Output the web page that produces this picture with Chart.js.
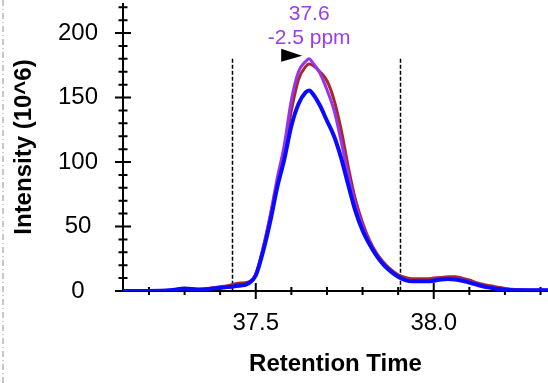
<!DOCTYPE html>
<html>
<head>
<meta charset="utf-8">
<script src="https://cdn.jsdelivr.net/npm/chart.js@4"></script>
<style>
  html, body { margin: 0; padding: 0; background: #fff; }
  #wrap { width: 548px; height: 383px; position: relative; }
</style>
</head>
<body>
<div id="wrap"><canvas id="chart-xic" width="548" height="383"></canvas></div>
<script>
const times = [37.12, 37.2, 37.26, 37.3, 37.34, 37.38, 37.42, 37.45, 37.48, 37.5, 37.52, 37.54, 37.56, 37.58, 37.6, 37.62, 37.64, 37.65, 37.66, 37.68, 37.7, 37.72, 37.74, 37.76, 37.78, 37.8, 37.82, 37.84, 37.86, 37.88, 37.9, 37.92, 37.94, 37.96, 37.98, 38.0, 38.02, 38.04, 38.06, 38.08, 38.1, 38.12, 38.14, 38.16, 38.18, 38.2, 38.24, 38.28, 38.32];
const blueValues = [0, 0, 0.5, 2, 1, 2, 3, 4, 6, 12, 30, 53, 80, 102, 128, 145, 154, 155.5, 153, 144, 132, 120, 103, 82, 62, 47, 36, 27, 20, 15, 11, 8.5, 7.5, 7.5, 7.5, 8, 9, 9.3, 9, 8, 6.5, 5, 3.5, 2.5, 1.5, 1, 0.5, 0.5, 0.5];
const purpleValues = [0, 0, 0.5, 2, 1, 2, 3, 4, 6, 13, 33, 58, 87, 113, 148, 170, 178, 180, 177, 169, 156, 140, 116, 90, 67, 50, 38, 28, 21, 15.5, 11.5, 9, 8, 8, 8, 8.5, 9.5, 10, 9.5, 8.5, 7, 5.5, 4, 3, 2, 1.5, 0.5, 0.5, 0.5];
const brownValues = [0, 0, 0.5, 2, 1.5, 2.5, 4, 6, 7, 13, 32, 57, 84, 110, 140, 164, 174, 176, 175, 170, 163, 148, 125, 96, 71, 53, 39, 29, 22, 16.5, 12.5, 10.5, 9.5, 9.5, 9.5, 10, 10.5, 11, 11, 10, 8.5, 6.5, 5, 4, 3, 2, 1, 0.5, 0.5];

const xTicks = [37.5, 38.0];
const yTicks = [0, 50, 100, 150, 200];
const xMinorStep = 0.1;
const yMinorStep = 10;

const peakBounds = [37.433, 37.905];
const boundTop = 180;
const peakTime = 37.65;
const peakTop = 180;
const peakLabel = ["37.6", "-2.5 ppm"];

const xyPoints = (vals) => times.map((t, i) => ({ x: t, y: vals[i] }));

const axesPlugin = {
  id: "axes",
  beforeDatasetsDraw(chart) {
    const { ctx, chartArea, scales } = chart;
    const xs = scales.x;
    const ys = scales.y;
    const x0 = chartArea.left;
    const y0 = ys.getPixelForValue(0);
    ctx.save();

    // light border on the far left
    ctx.strokeStyle = "#c8c8c8";
    ctx.lineWidth = 2;
    ctx.setLineDash([6, 3, 1, 3]);
    ctx.beginPath();
    ctx.moveTo(3, 0);
    ctx.lineTo(3, chart.height);
    ctx.stroke();

    // integration bounds
    ctx.strokeStyle = "#000";
    ctx.lineWidth = 1.5;
    ctx.setLineDash([4, 2]);
    peakBounds.forEach((b) => {
      const px = Math.round(xs.getPixelForValue(b)) + 0.5;
      ctx.beginPath();
      ctx.moveTo(px, ys.getPixelForValue(boundTop));
      ctx.lineTo(px, y0);
      ctx.stroke();
    });
    ctx.setLineDash([]);

    // axis lines
    ctx.lineWidth = 2;
    ctx.beginPath();
    ctx.moveTo(x0 - 8, y0);
    ctx.lineTo(chartArea.right, y0);
    ctx.moveTo(x0, y0);
    ctx.lineTo(x0, chartArea.top);
    ctx.stroke();

    // x ticks
    ctx.beginPath();
    for (let v = Math.ceil(xs.min / xMinorStep) * xMinorStep; v <= xs.max; v += xMinorStep) {
      const px = xs.getPixelForValue(v);
      const major = xTicks.some((t) => Math.abs(t - v) < 1e-6);
      const len = major ? 8 : 4;
      ctx.moveTo(px, y0 - len);
      ctx.lineTo(px, y0 + len);
    }
    // y ticks
    for (let v = yMinorStep; v <= ys.max; v += yMinorStep) {
      const py = ys.getPixelForValue(v);
      const major = yTicks.includes(v);
      const len = major ? 8 : 4.5;
      ctx.moveTo(x0 - len, py);
      ctx.lineTo(x0 + len, py);
    }
    ctx.stroke();
    ctx.restore();
  },
  afterDatasetsDraw(chart) {
    const { ctx, scales } = chart;
    const px = scales.x.getPixelForValue(peakTime);
    const py = scales.y.getPixelForValue(peakTop);
    ctx.save();
    // arrow marker
    ctx.fillStyle = "#000";
    ctx.beginPath();
    ctx.moveTo(px - 7, py - 3);
    ctx.lineTo(px - 28, py - 10);
    ctx.lineTo(px - 28, py + 3);
    ctx.closePath();
    ctx.fill();
    // label
    ctx.fillStyle = "#9b3cf0";
    ctx.font = "21px 'Liberation Sans', Arial, sans-serif";
    ctx.textAlign = "center";
    ctx.textBaseline = "middle";
    ctx.fillText(peakLabel[0], px, py - 45);
    ctx.fillText(peakLabel[1], px, py - 21);
    ctx.restore();
  },
};

const chartXic = new Chart(document.querySelector("#chart-xic"), {
  type: "line",
  data: {
    datasets: [
      {
        label: "blue",
        data: xyPoints(blueValues),
        borderColor: "#0a0aff",
        borderWidth: 4,
        order: 1,
      },
      {
        label: "purple",
        data: xyPoints(purpleValues),
        borderColor: "#9932ee",
        borderWidth: 3,
        order: 2,
      },
      {
        label: "brown",
        data: xyPoints(brownValues),
        borderColor: "#a82828",
        borderWidth: 3,
        order: 3,
      },
    ],
  },
  options: {
    responsive: false,
    animation: false,
    devicePixelRatio: 1,
    layout: { padding: { top: 3, right: 0, left: 0, bottom: 0 } },
    elements: {
      point: { radius: 0 },
      line: { cubicInterpolationMode: "monotone", borderJoinStyle: "round", borderCapStyle: "round" },
    },
    plugins: {
      legend: { display: false },
      tooltip: { enabled: false },
    },
    scales: {
      x: {
        type: "linear",
        min: 37.127,
        max: 38.321,
        grid: { display: false, drawTicks: false, tickLength: 0 },
        border: { display: false },
        afterBuildTicks: (s) => { s.ticks = xTicks.map((v) => ({ value: v })); },
        afterFit: (s) => {
          s.height = 92;
          s.paddingLeft = 0;
          s.paddingRight = 0;
        },
        ticks: {
          padding: 18,
          color: "#000",
          font: { family: "'Liberation Sans', Arial, sans-serif", size: 24 },
          callback: (v) => Number(v).toFixed(1),
        },
        title: {
          display: true,
          text: "Retention Time",
          color: "#000",
          padding: { top: 0, bottom: 4 },
          font: { family: "'Liberation Sans', Arial, sans-serif", size: 24, weight: "bold" },
        },
      },
      y: {
        min: 0,
        max: 223.3,
        grid: { display: false, drawTicks: false, tickLength: 0 },
        border: { display: false },
        afterBuildTicks: (s) => { s.ticks = yTicks.map((v) => ({ value: v })); },
        afterFit: (s) => {
          s.width = 123;
          s.paddingTop = 0;
          s.paddingBottom = 0;
        },
        ticks: {
          padding: 25,
          crossAlign: "center",
          color: "#000",
          font: { family: "'Liberation Sans', Arial, sans-serif", size: 24 },
        },
        title: {
          display: true,
          text: "Intensity (10^6)",
          color: "#000",
          padding: { top: 10, bottom: 0 },
          font: { family: "'Liberation Sans', Arial, sans-serif", size: 24, weight: "bold" },
        },
      },
    },
  },
  plugins: [axesPlugin],
});
</script>
</body>
</html>
